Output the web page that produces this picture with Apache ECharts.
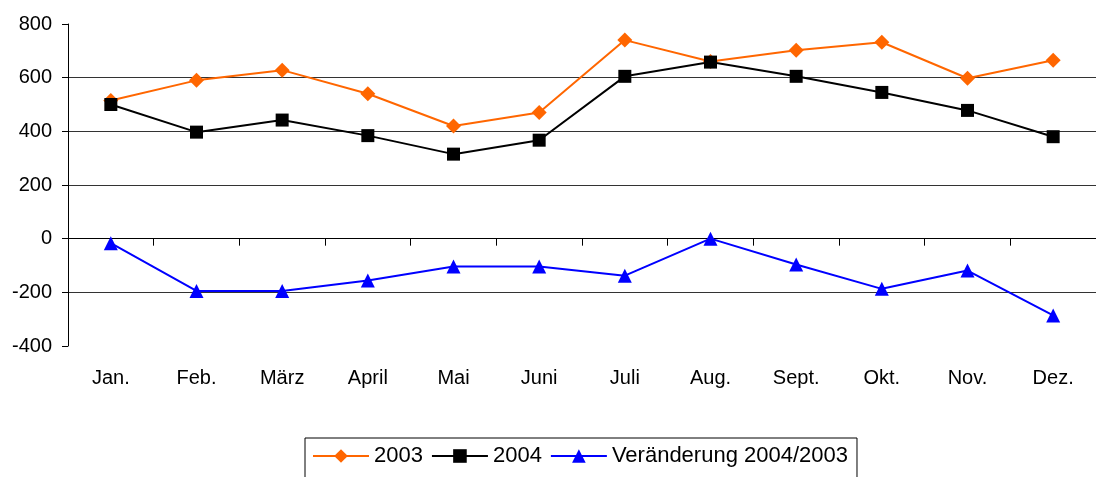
<!DOCTYPE html>
<html>
<head>
<meta charset="utf-8">
<script src="https://cdn.jsdelivr.net/npm/echarts@6/dist/echarts.min.js"></script>
<style>
  html, body { margin: 0; padding: 0; background: #fff; }
  #main { width: 1096px; height: 477px; }
</style>
</head>
<body>
<div id="main"></div>
<script>
// Monate und Werte
var months = ['Jan.', 'Feb.', 'März', 'April', 'Mai', 'Juni', 'Juli', 'Aug.', 'Sept.', 'Okt.', 'Nov.', 'Dez.'];
var values2003 = [515, 590, 628, 540, 420, 470, 740, 660, 702, 732, 598, 665];
var values2004 = [500, 397, 442, 384, 315, 367, 605, 658, 605, 545, 478, 380];
var valuesChange = [-17, -195, -195, -156, -104, -104, -138, 0, -96, -187, -119, -286];
var yTicks = { min: -400, max: 800, step: 200 };

var myChart = echarts.init(document.getElementById('main'));

var font = 'Liberation Sans, Arial, sans-serif';

var option = {
    backgroundColor: '#fff',
    animation: false,
    grid: { left: 68, top: 24, width: 1034, height: 322 },
    legend: {
        left: 305,
        top: 438,
        orient: 'horizontal',
        itemWidth: 56,
        itemHeight: 17,
        itemGap: 8,
        padding: [6, 9, 30, 7],
        borderColor: '#000',
        borderWidth: 1,
        textStyle: { color: '#000', fontSize: 22, fontFamily: font, lineHeight: 24 },
        data: ['2003', '2004', 'Veränderung 2004/2003']
    },
    xAxis: [{
        type: 'category',
        data: months,
        boundaryGap: true,
        axisLine: { onZero: true, lineStyle: { color: '#000', width: 1 } },
        axisTick: { show: true, length: 7, lineStyle: { color: '#000' } },
        axisLabel: { show: false }
    }, {
        type: 'category',
        data: months,
        position: 'bottom',
        boundaryGap: true,
        axisLine: { show: false, onZero: false },
        axisTick: { show: false },
        axisLabel: { color: '#000', fontSize: 20, fontFamily: font, margin: 22 }
    }],
    yAxis: {
        type: 'value',
        min: yTicks.min,
        max: yTicks.max,
        interval: yTicks.step,
        axisLine: { show: true, lineStyle: { color: '#000', width: 1 } },
        axisTick: { show: true, length: 6, lineStyle: { color: '#000' } },
        axisLabel: { color: '#000', fontSize: 20, fontFamily: font, margin: 16 },
        splitLine: { show: true, showMinLine: false, showMaxLine: false, lineStyle: { color: '#333', width: 1 } }
    },
    series: [{
        name: '2003',
        type: 'line',
        data: values2003,
        symbol: 'diamond',
        symbolSize: 15,
        color: '#ff6600',
        lineStyle: { color: '#ff6600', width: 2 },
        itemStyle: { color: '#ff6600' }
    }, {
        name: '2004',
        type: 'line',
        data: values2004,
        symbol: 'rect',
        symbolSize: 13,
        color: '#000',
        lineStyle: { color: '#000', width: 2 },
        itemStyle: { color: '#000' }
    }, {
        name: 'Veränderung 2004/2003',
        type: 'line',
        data: valuesChange,
        symbol: 'triangle',
        symbolSize: 14,
        color: '#0000ff',
        lineStyle: { color: '#0000ff', width: 2 },
        itemStyle: { color: '#0000ff' }
    }]
};

myChart.setOption(option);
</script>
</body>
</html>
